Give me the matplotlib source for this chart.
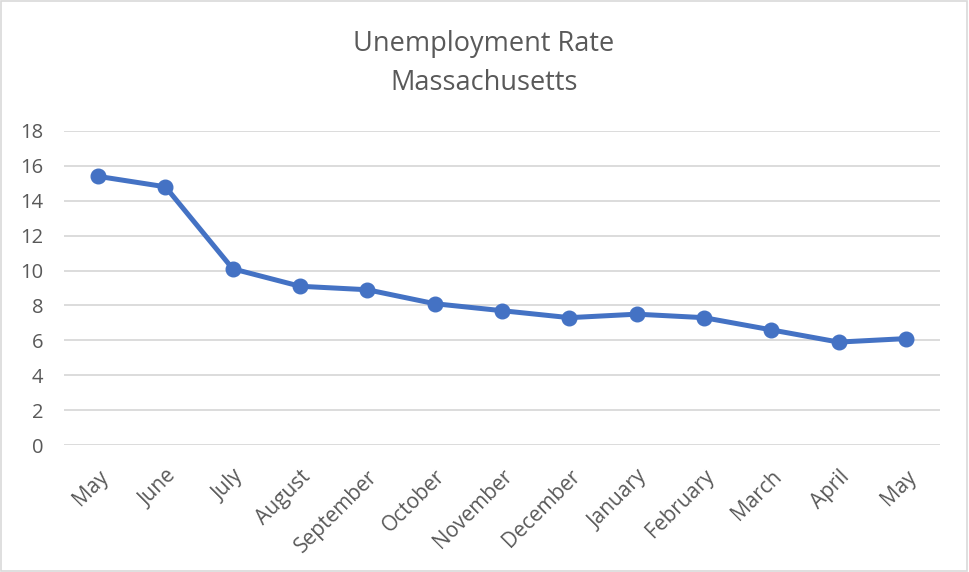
import matplotlib
matplotlib.use('Agg')
import matplotlib.pyplot as plt
from matplotlib.patches import Rectangle

# Données
mois = ['May', 'June', 'July', 'August', 'September', 'October', 'November',
        'December', 'January', 'February', 'March', 'April', 'May']
taux = [15.4, 14.8, 10.1, 9.1, 8.9, 8.1, 7.7, 7.3, 7.5, 7.3, 6.6, 5.9, 6.1]
graduations = [0, 2, 4, 6, 8, 10, 12, 14, 16, 18]

plt.rcParams['font.family'] = ['Open Sans', 'DejaVu Sans']
gris_texte = '#595959'

fig = plt.figure(figsize=(9.69, 5.72), dpi=100)
ax = fig.add_axes([0.0665, 0.222, 0.9032, 0.549])

x = list(range(len(mois)))
ax.plot(x, taux, color='#4472C4', linewidth=3.6, marker='o', markersize=10.5,
        solid_capstyle='round', zorder=3)

ax.set_xlim(-0.5, len(mois) - 0.5)
ax.set_ylim(0, 18)
ax.set_yticks(graduations)
ax.set_xticks(x)
ax.set_xticklabels(mois, rotation=45, ha='right', rotation_mode='anchor')

ax.grid(axis='y', color='#d9d9d9', linewidth=1.3)
ax.set_axisbelow(True)
for s in ax.spines.values():
    s.set_visible(False)
ax.tick_params(axis='both', length=0, labelsize=14.5, labelcolor=gris_texte)
ax.tick_params(axis='y', pad=15)
ax.tick_params(axis='x', labelsize=15, pad=15)

fig.text(0.4995, 0.923, 'Unemployment Rate', ha='center', va='center',
         fontsize=19.5, color=gris_texte)
fig.text(0.4995, 0.855, 'Massachusetts', ha='center', va='center',
         fontsize=19.5, color=gris_texte)

# cadre gris autour de la figure
fig.patches.append(Rectangle((0.001, 0.001), 0.997, 0.997, transform=fig.transFigure,
                             fill=False, edgecolor='#d9d9d9', linewidth=1.2))

fig.savefig('out.png', dpi=100)
